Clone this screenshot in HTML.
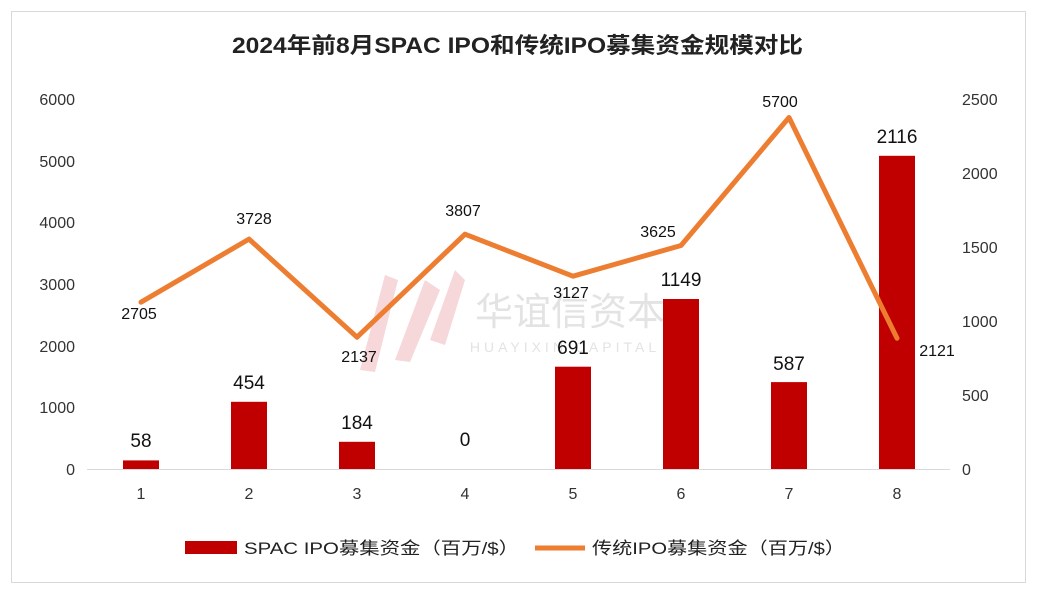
<!DOCTYPE html>
<html><head><meta charset="utf-8"><style>
body{margin:0;background:#fff}
</style></head><body>
<svg width="1037" height="596" xmlns="http://www.w3.org/2000/svg" font-family="Liberation Sans, Noto Sans CJK SC, sans-serif">
<rect x="0" y="0" width="1037" height="596" fill="#fff"/>
<rect x="11.5" y="11.5" width="1014" height="571" fill="none" stroke="#d9d9d9"/>
<text x="232" y="53" font-size="22" font-weight="bold" fill="#222" textLength="571" lengthAdjust="spacingAndGlyphs">2024年前8月SPAC IPO和传统IPO募集资金规模对比</text>
<!-- watermark -->
<g fill="#f6d3d6" opacity="0.9">
<polygon points="360,370 385,275 398,280 375,372"/>
<polygon points="395,360 425,280 440,290 410,362"/>
<polygon points="430,340 455,270 465,280 445,345"/>
</g>
<text x="570" y="325" text-anchor="middle" font-size="38" fill="#e3e3e3">华谊信资本</text>
<text x="565" y="352" text-anchor="middle" font-size="14" letter-spacing="4" fill="#e3e3e3">HUAYIXIN CAPITAL</text>
<g font-size="16" fill="#333" text-anchor="end">
<text x="75" y="475">0</text><text x="75" y="413">1000</text><text x="75" y="352">2000</text>
<text x="75" y="290">3000</text><text x="75" y="228">4000</text><text x="75" y="167">5000</text><text x="75" y="105">6000</text>
</g>
<g font-size="16" fill="#333" text-anchor="start">
<text x="962" y="475">0</text><text x="962" y="401">500</text><text x="962" y="327">1000</text>
<text x="962" y="253">1500</text><text x="962" y="179">2000</text><text x="962" y="105">2500</text>
</g>
<line x1="87" y1="469.5" x2="950" y2="469.5" stroke="#d9d9d9"/>
<g fill="#c00000">
<rect x="123" y="460.4" width="36" height="8.6"/>
<rect x="231" y="401.8" width="36" height="67.2"/>
<rect x="339" y="441.8" width="36" height="27.2"/>
<rect x="555" y="366.7" width="36" height="102.3"/>
<rect x="663" y="299" width="36" height="170"/>
<rect x="771" y="382.1" width="36" height="86.9"/>
<rect x="879" y="155.8" width="36" height="313.2"/>
</g>
<g font-size="19" fill="#111" text-anchor="middle">
<text x="141" y="447">58</text><text x="249" y="389">454</text><text x="357" y="429">184</text>
<text x="465" y="446">0</text><text x="573" y="354">691</text><text x="681" y="286">1149</text>
<text x="789" y="370">587</text><text x="897" y="143">2116</text>
</g>
<polyline fill="none" stroke="#ed7d31" stroke-width="5" stroke-linejoin="round" stroke-linecap="round"
points="141,302.2 249,239.1 357,337.2 465,234.2 573,276.2 681,245.5 789,117.5 897,338.2"/>
<g font-size="16" fill="#111" text-anchor="middle">
<text x="139" y="319">2705</text><text x="254" y="224">3728</text><text x="359" y="362">2137</text>
<text x="463" y="216">3807</text><text x="571" y="298">3127</text><text x="658" y="237">3625</text>
<text x="780" y="107">5700</text><text x="937" y="356">2121</text>
</g>
<g font-size="16" fill="#333" text-anchor="middle">
<text x="141" y="499">1</text><text x="249" y="499">2</text><text x="357" y="499">3</text><text x="465" y="499">4</text>
<text x="573" y="499">5</text><text x="681" y="499">6</text><text x="789" y="499">7</text><text x="897" y="499">8</text>
</g>
<rect x="185" y="541" width="52" height="13" fill="#c00000"/>
<text x="244" y="554" font-size="17" fill="#222" textLength="275" lengthAdjust="spacingAndGlyphs">SPAC IPO募集资金（百万/$）</text>
<line x1="535" y1="548" x2="585" y2="548" stroke="#ed7d31" stroke-width="5"/>
<text x="592" y="554" font-size="17" fill="#222" textLength="253" lengthAdjust="spacingAndGlyphs">传统IPO募集资金（百万/$）</text>
</svg>
</body></html>
